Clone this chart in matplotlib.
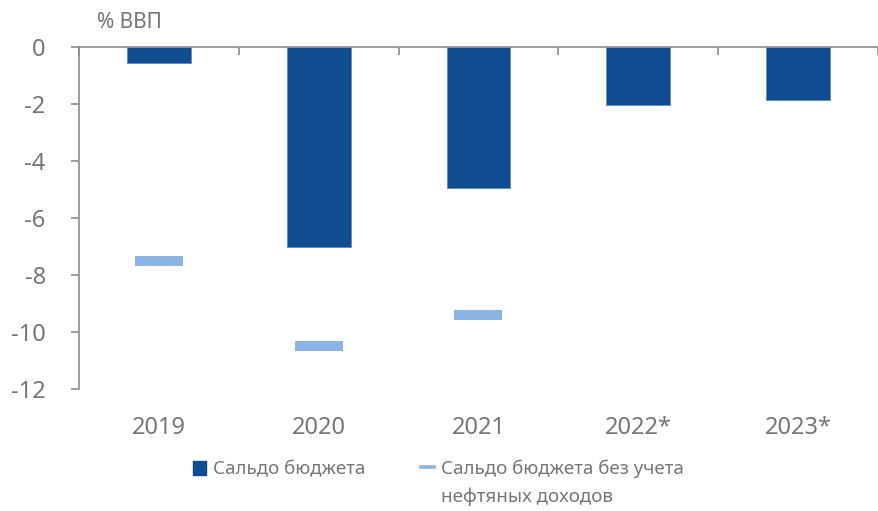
import matplotlib
matplotlib.use('Agg')
import matplotlib.pyplot as plt
from matplotlib.patches import Patch
from matplotlib.lines import Line2D

# data
years = ['2019', '2020', '2021', '2022*', '2023*']
balance = [-0.55, -7.0, -4.95, -2.02, -1.86]
non_oil_balance = [-7.5, -10.5, -9.4, None, None]
y_ticks = [0, -2, -4, -6, -8, -10, -12]

bar_color = '#104C90'
dash_color = '#8BB3E3'
text_color = '#767676'
axis_color = '#8C8C8C'

plt.rcParams['font.family'] = ['Noto Sans', 'DejaVu Sans']

fig = plt.figure(figsize=(8.79, 5.11), dpi=100)
ax = fig.add_axes([79/879, 1-389/511, 799/879, (389-47.5)/511])

x = list(range(len(years)))
ax.bar(x, balance, width=0.4, color=bar_color, edgecolor='#5B8BC8', linewidth=0.6, zorder=2)

xs = [i for i, v in zip(x, non_oil_balance) if v is not None]
vs = [v for v in non_oil_balance if v is not None]
ax.plot(xs, vs, linestyle='none', marker='_', markersize=34.6, markeredgewidth=7.2,
        color=dash_color, zorder=3)

ax.set_xlim(-0.5, len(years) - 0.5)
ax.set_ylim(-12, 0)

for s in ['bottom', 'right']:
    ax.spines[s].set_visible(False)
for s in ['top', 'left']:
    ax.spines[s].set_color(axis_color)
    ax.spines[s].set_linewidth(1.2)

ax.set_yticks(y_ticks)
ax.set_yticklabels([str(t) for t in y_ticks])
ax.tick_params(axis='y', direction='out', length=6, width=1.2, color=axis_color,
               labelsize=17, labelcolor=text_color, pad=18)

ax.set_xticks(x)
ax.set_xticklabels(years)
ax.tick_params(axis='x', which='major', length=0, labelsize=17, labelcolor=text_color, pad=19.5)
ax.set_xticks([i - 0.5 for i in range(len(years) + 1)], minor=True)
ax.tick_params(axis='x', which='minor', top=True, bottom=False, direction='in',
               length=6, width=1.2, color=axis_color)

fig.text(97/879, 1-22/511, '% ВВП', fontsize=15, color=text_color, va='center', ha='left')

handles = [Patch(facecolor=bar_color, edgecolor=bar_color),
           Line2D([], [], color=dash_color, linewidth=2.6)]
labels = ['Сальдо бюджета', 'Сальдо бюджета без учета']
leg = fig.legend(handles, labels, loc='center left', bbox_to_anchor=(193/879, 1-469/511),
                 ncol=2, frameon=False, fontsize=13.5, handlelength=0.7, handleheight=0.8,
                 handletextpad=0.35, columnspacing=3.0, labelcolor=text_color,
                 borderpad=0, borderaxespad=0)

fig.canvas.draw()
t2 = leg.get_texts()[1]
bb = t2.get_window_extent()
fig.text(bb.x0 / fig.bbox.width, 1-497/511, 'нефтяных доходов', fontsize=13.5,
         color=text_color, va='center', ha='left')

fig.savefig('out.png', dpi=100)
